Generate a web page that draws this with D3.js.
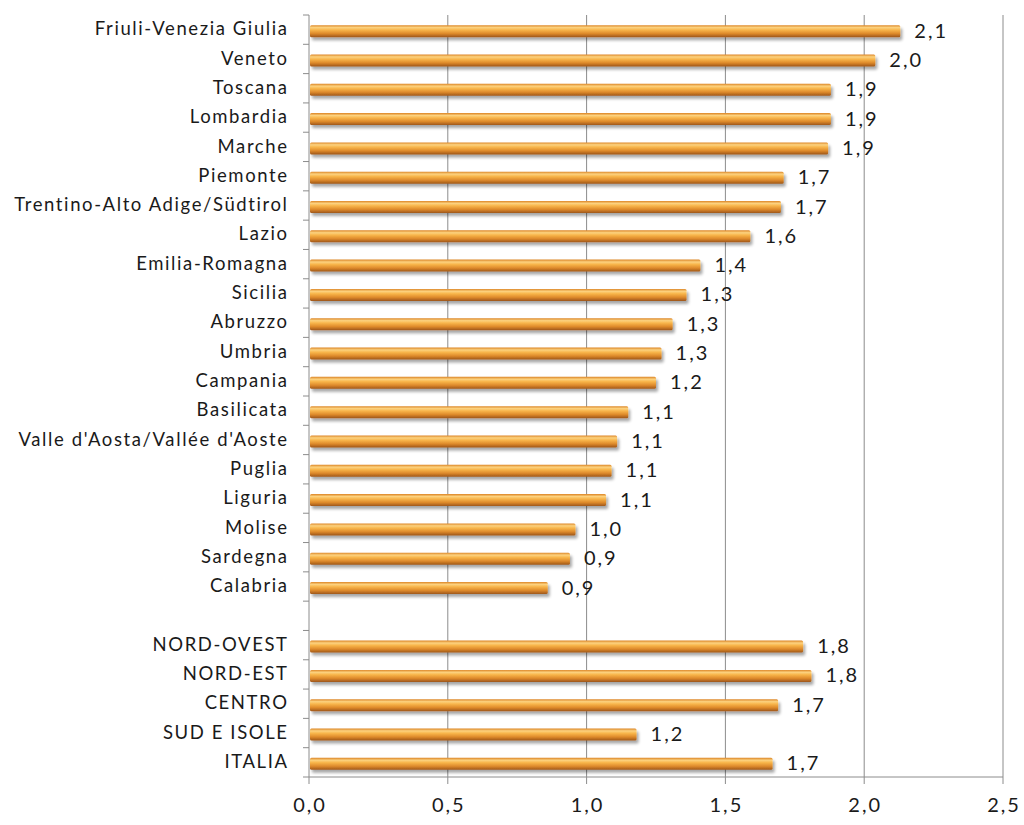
<!DOCTYPE html>
<html><head><meta charset="utf-8">
<script src="https://cdn.jsdelivr.net/npm/d3@7"></script>
<style>body{margin:0;background:#fff}svg{display:block}text{font-family:Lato,"Open Sans",sans-serif}</style>
</head><body><svg id="c" width="1024" height="825"></svg>
<script>
const categories = ["Friuli-Venezia Giulia","Veneto","Toscana","Lombardia","Marche","Piemonte","Trentino-Alto Adige/Südtirol","Lazio","Emilia-Romagna","Sicilia","Abruzzo","Umbria","Campania","Basilicata","Valle d'Aosta/Vallée d'Aoste","Puglia","Liguria","Molise","Sardegna","Calabria","","NORD-OVEST","NORD-EST","CENTRO","SUD E ISOLE","ITALIA"];
const values = [2.13,2.04,1.88,1.88,1.87,1.71,1.70,1.59,1.41,1.36,1.31,1.27,1.25,1.15,1.11,1.09,1.07,0.96,0.94,0.86,null,1.78,1.81,1.69,1.18,1.67];
const valueLabels = ["2,1","2,0","1,9","1,9","1,9","1,7","1,7","1,6","1,4","1,3","1,3","1,3","1,2","1,1","1,1","1,1","1,1","1,0","0,9","0,9","","1,8","1,8","1,7","1,2","1,7"];
const xTicks = [0,0.5,1,1.5,2,2.5];
const xTickLabels = ["0,0","0,5","1,0","1,5","2,0","2,5"];

(function(){
const svg = d3.select("#c");
const L = 309, R = 1003, T = 15, B = 777;
const x = d3.scaleLinear().domain([0,2.5]).range([L,R]);
const y = d3.scaleBand().domain(d3.range(categories.length)).range([T,B]);

const defs = svg.append("defs");
const g = defs.append("linearGradient").attr("id","bar").attr("x1",0).attr("y1",0).attr("x2",0).attr("y2",1);
[[0,"#dc8526"],[0.2,"#fcd27f"],[0.4,"#f8b54a"],[0.7,"#de8a2b"],[1,"#9e5619"]].forEach(([o,c])=>g.append("stop").attr("offset",o).attr("stop-color",c));
const f = defs.append("filter").attr("id","sh").attr("x","-5%").attr("y","-50%").attr("width","110%").attr("height","250%");
f.append("feGaussianBlur").attr("in","SourceAlpha").attr("stdDeviation",1.6);
f.append("feOffset").attr("dx",2).attr("dy",3).attr("result","b");
f.append("feComponentTransfer").append("feFuncA").attr("type","linear").attr("slope",0.35);
const m = f.append("feMerge"); m.append("feMergeNode"); m.append("feMergeNode").attr("in","SourceGraphic");

svg.append("g").selectAll("line").data(xTicks.slice(1)).join("line")
  .attr("x1",d=>x(d)).attr("x2",d=>x(d)).attr("y1",T).attr("y2",B)
  .attr("stroke","#8c8c8c").attr("stroke-width",1);

const bh = 12;
const pts = values.map((v,i)=>({v,i})).filter(d=>d.v!=null);
svg.append("g").selectAll("rect").data(pts).join("rect")
  .attr("x",x(0)+1).attr("y",d=>y(d.i)+y.bandwidth()/2-bh/2+1.5)
  .attr("width",d=>x(d.v)-x(0)-1).attr("height",bh)
  .attr("rx",1.5)
  .attr("fill","url(#bar)").attr("filter","url(#sh)");

svg.append("g").selectAll("text").data(pts).join("text")
  .attr("x",d=>x(d.v)+14).attr("y",d=>y(d.i)+y.bandwidth()/2+3)
  .attr("dominant-baseline","middle").attr("font-size",20).attr("letter-spacing",2).attr("fill","#1a1a1a")
  .text(d=>valueLabels[d.i]);

const ls = 1.6;
const ya = svg.append("g");
ya.append("line").attr("x1",L).attr("x2",L).attr("y1",T).attr("y2",B).attr("stroke","#8c8c8c");
ya.selectAll("line.t").data(d3.range(categories.length+1)).join("line").attr("class","t")
  .attr("x1",L-6).attr("x2",L).attr("y1",i=>T+i*y.step()).attr("y2",i=>T+i*y.step()).attr("stroke","#8c8c8c");
ya.selectAll("text").data(categories).join("text")
  .attr("x",287+ls).attr("y",(d,i)=>y(i)+y.bandwidth()/2+1)
  .attr("text-anchor","end").attr("dominant-baseline","middle").attr("font-size",18.5).attr("fill","#1a1a1a")
  .attr("letter-spacing",ls)
  .text(d=>d);

const xa = svg.append("g");
xa.append("line").attr("x1",L).attr("x2",R).attr("y1",B).attr("y2",B).attr("stroke","#8c8c8c");
xa.selectAll("line.t").data(xTicks).join("line").attr("class","t")
  .attr("x1",d=>x(d)).attr("x2",d=>x(d)).attr("y1",B).attr("y2",B+7).attr("stroke","#8c8c8c");
xa.selectAll("text").data(xTicks).join("text")
  .attr("x",d=>x(d)+1).attr("y",807).attr("text-anchor","middle").attr("dominant-baseline","middle")
  .attr("font-size",20).attr("letter-spacing",2).attr("fill","#1a1a1a").text((d,i)=>xTickLabels[i]);
})();
</script></body></html>
